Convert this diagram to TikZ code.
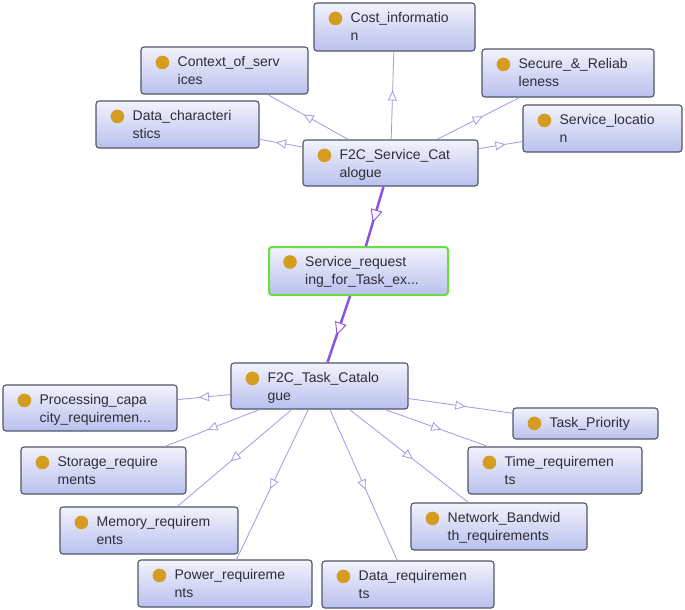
\documentclass[tikz,border=0pt]{standalone}
\usepackage{fontspec}
\setmainfont{Liberation Sans}
\usetikzlibrary{arrows.meta,decorations.markings}
\definecolor{edgec}{RGB}{168,150,234}
\definecolor{thickc}{RGB}{138,84,230}
\definecolor{borderc}{RGB}{78,86,102}
\definecolor{topc}{RGB}{242,243,252}
\definecolor{botc}{RGB}{186,192,238}
\definecolor{dotc}{RGB}{212,156,32}
\definecolor{txtc}{RGB}{45,45,55}
\definecolor{greenc}{RGB}{104,222,64}
\tikzset{
  box/.style={draw=borderc, line width=1.1pt, rounded corners=3pt, top color=topc, bottom color=botc, inner sep=0pt, anchor=center},
  selbox/.style={draw=greenc, line width=2pt},
  lbl/.style={anchor=base west, inner sep=0pt, text=txtc, font={\fontsize{14}{18}\selectfont}},
  midtri/.style={postaction={decorate}, decoration={markings, mark=at position 0.5 with {\arrow[xshift=5pt]{Triangle[open,fill=white,length=10pt,width=9pt,line width=0.8pt]}}}},
  bigtri/.style={postaction={decorate}, decoration={markings, mark=at position 0.5 with {\arrow[xshift=6.5pt]{Triangle[open,fill=white,length=13pt,width=12pt,line width=0.9pt]}}}},
  edge/.style={draw=edgec, line width=0.8pt, midtri},
  thickedge/.style={draw=thickc, line width=2.5pt, bigtri},
}
\newcommand\obox[8]{%
  \node[box,#6,minimum width={(#4-#2)*1pt},minimum height={(#5-#3)*1pt}] (#1) at ({(#2+#4)/2},{(#3+#5)/2}) {};
  \fill[dotc] ([xshift=22pt,yshift=-16pt]#1.north west) circle (6.8pt);
  \node[lbl] (#1-t) at ([xshift=37pt,yshift=-20.5pt]#1.north west) {\vtop{\hbox{#7}\hbox{#8}}};
}
\begin{document}
\begin{tikzpicture}[x=1pt,y=-1pt]
\useasboundingbox[fill=white] (0,0) rectangle (685,610);
\obox{cost}{314}{3}{475}{51}{}{Cost\_informatio}{n}
\obox{context}{141}{47}{308}{94}{}{Context\_of\_serv}{ices}
\obox{secure}{482}{49}{654}{97}{}{Secure\_\&\_Reliab}{leness}
\obox{datachar}{96}{101}{259}{148}{}{Data\_characteri}{stics}
\obox{servloc}{523}{105}{682}{152}{}{Service\_locatio}{n}
\obox{f2cs}{303}{140}{478}{186}{}{F2C\_Service\_Cat}{alogue}
\obox{servreq}{269}{247}{448}{295}{selbox}{Service\_request}{ing\_for\_Task\_ex...}
\obox{f2ct}{231}{363}{408}{409}{}{F2C\_Task\_Catalo}{gue}
\obox{proc}{3}{385}{177}{431}{}{Processing\_capa}{city\_requiremen...}
\obox{prio}{513}{408}{658}{439}{}{Task\_Priority}{}
\obox{stor}{21}{447}{186}{494}{}{Storage\_require}{ments}
\obox{time}{468}{447}{642}{494}{}{Time\_requiremen}{ts}
\obox{mem}{60}{507}{238}{554}{}{Memory\_requirem}{ents}
\obox{net}{411}{503}{587}{550}{}{Network\_Bandwid}{th\_requirements}
\obox{power}{138}{560}{312}{607}{}{Power\_requireme}{nts}
\obox{datareq}{322}{561}{494}{608}{}{Data\_requiremen}{ts}
% connectors
\foreach \c in {cost,context,secure,datachar,servloc}
  \draw[edge] (f2cs) -- (\c);
\draw[thickedge] (f2cs) -- (servreq);
\draw[thickedge] (servreq) -- (f2ct);
\foreach \c in {proc,prio,stor,time,mem,net,power,datareq}
  \draw[edge] (f2ct) -- (\c);
\end{tikzpicture}
\end{document}
